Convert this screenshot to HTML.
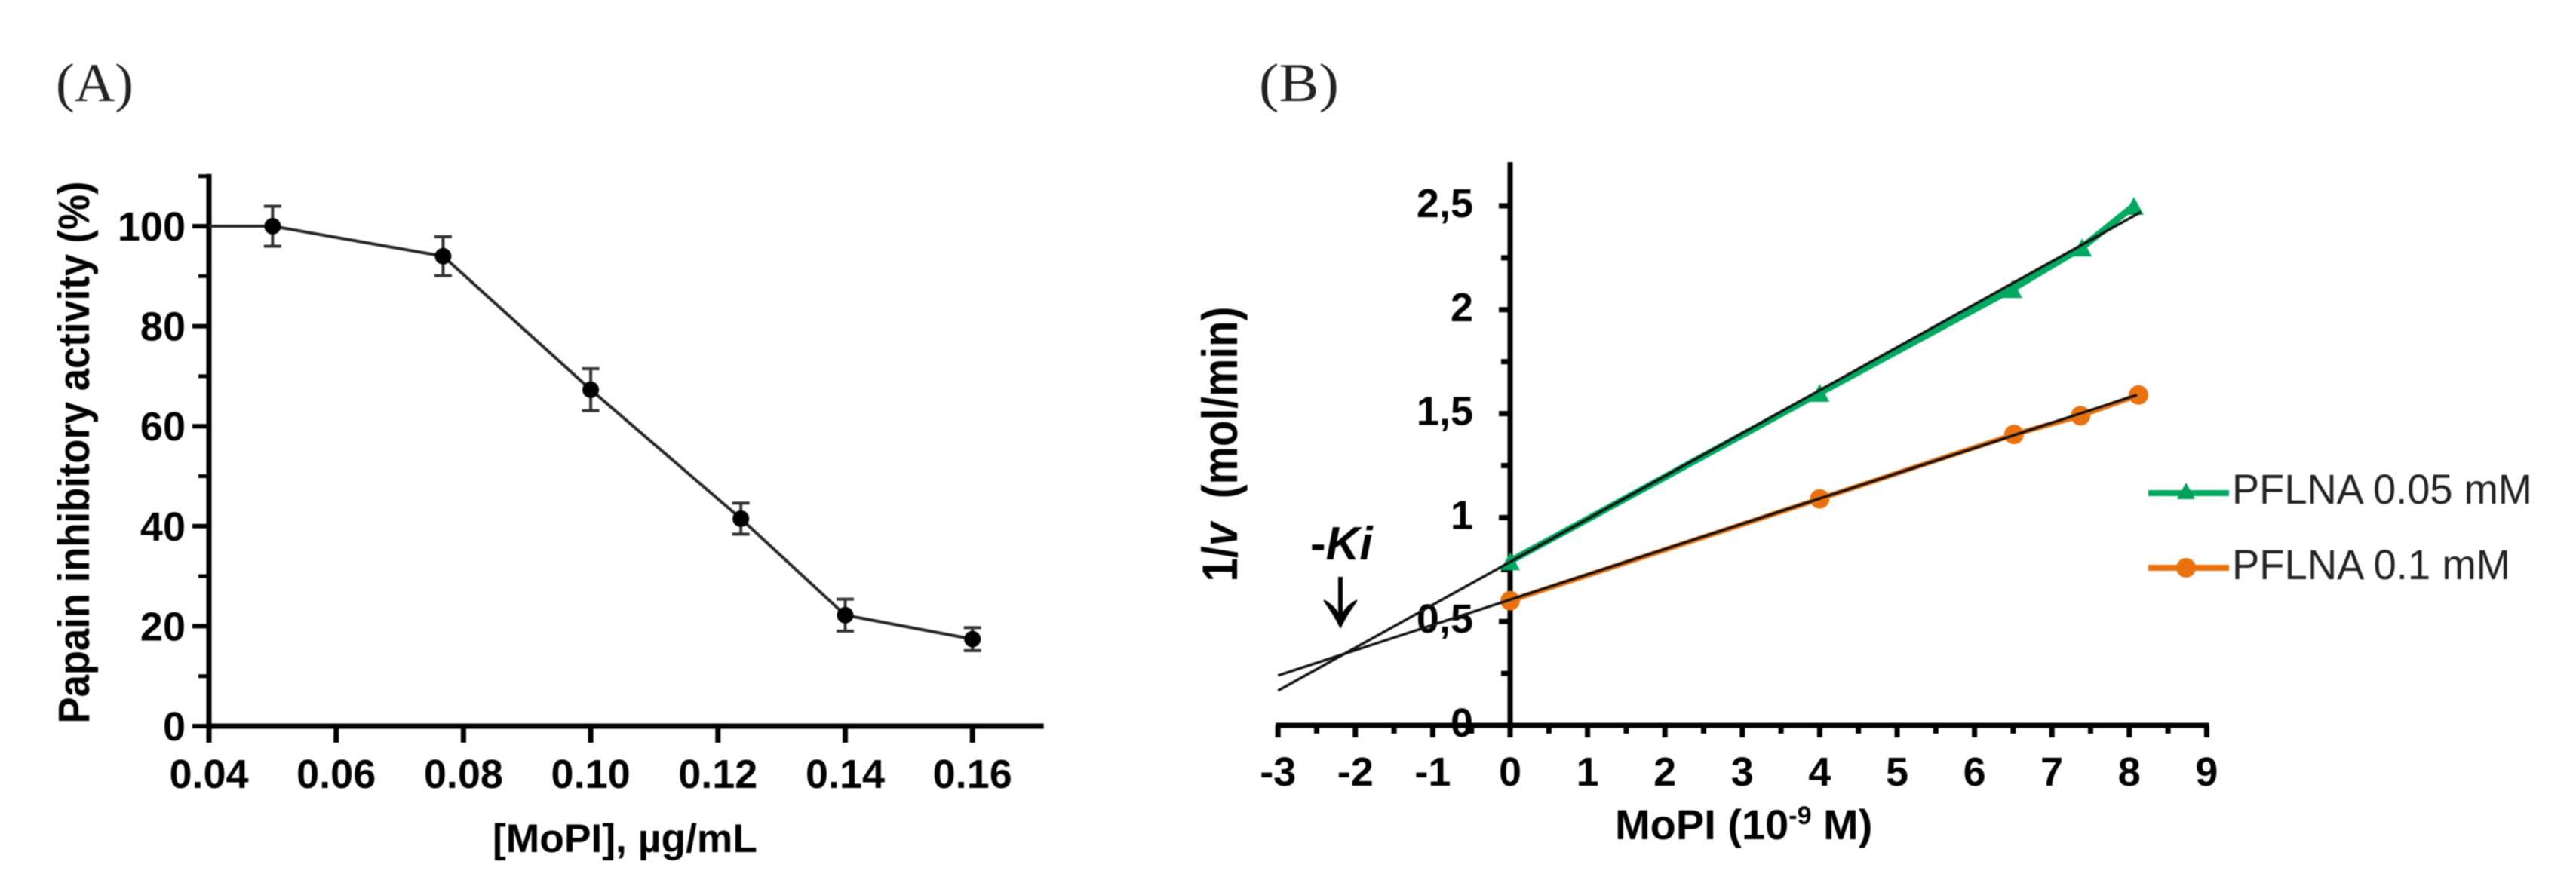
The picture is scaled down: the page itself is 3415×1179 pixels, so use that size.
<!DOCTYPE html>
<html lang="en">
<head>
<meta charset="utf-8">
<title>Papain inhibition and Dixon plot</title>
<style>
  html, body { margin: 0; padding: 0; background: #fff; }
  body { width: 3415px; height: 1179px; overflow: hidden; }
  svg { display: block; filter: blur(0.8px); }
  text { font-family: "Liberation Sans", Arial, sans-serif; fill: #000; }
  .bold { font-weight: 700; }
  .serif { font-family: "Liberation Serif", "Times New Roman", serif; fill: #222; }
  .tick-a { font-size: 54px; font-weight: 700; }
  .tick-b { font-size: 54px; font-weight: 700; }
  .legend-text { font-size: 56px; fill: #222; }
</style>
</head>
<body>
<svg id="figure" width="3415" height="1179" viewBox="0 0 3415 1179" xmlns="http://www.w3.org/2000/svg">
  <rect x="0" y="0" width="3415" height="1179" fill="#fff"/>

  <text class="serif" x="74" y="134" font-size="72" textLength="103" lengthAdjust="spacingAndGlyphs">(A)</text>
  <text class="serif" x="1669" y="134" font-size="72" textLength="106" lengthAdjust="spacingAndGlyphs">(B)</text>

  <g id="panel-a"></g>
  <g id="panel-b"></g>

  <text class="bold" transform="translate(118,600) rotate(-90)" text-anchor="middle" font-size="58" textLength="719" lengthAdjust="spacingAndGlyphs">Papain inhibitory activity (%)</text>
  <text class="bold" x="653" y="1130" font-size="53" textLength="351" lengthAdjust="spacingAndGlyphs">[MoPI], µg/mL</text>

  <text class="bold" transform="translate(1640,589) rotate(-90)" text-anchor="middle" font-size="66" textLength="365" lengthAdjust="spacingAndGlyphs" xml:space="preserve" style="white-space:pre">1/<tspan font-style="italic">v</tspan>  (mol/min)</text>
  <text class="bold" x="2141" y="1113" font-size="56">MoPI (10<tspan font-size="34" dy="-20">-9</tspan><tspan dy="20"> M)</tspan></text>

  <text class="bold" x="1737" y="742" font-size="62">-<tspan font-style="italic">Ki</tspan></text>
  <path fill="#000" d="M1774 765 L1780 765 L1780 812 Q1786 802 1799 795 L1799 798 Q1786 815 1777 834 Q1768 815 1755 798 L1755 795 Q1768 802 1774 812 Z"/>
</svg>

<script>
// ---------- Panel A data ----------
const inhibitionConc = [0.05, 0.0768, 0.1, 0.1236, 0.14, 0.16];
const inhibitionActivity = [100, 94, 67.3, 41.5, 22.2, 17.4];
const inhibitionError = [4, 3.9, 4.2, 3.1, 3.2, 2.3];
const inhibitionLeadConc = 0.04;
const aXTickValues = [0.04, 0.06, 0.08, 0.10, 0.12, 0.14, 0.16];
const aXTickLabels = ['0.04', '0.06', '0.08', '0.10', '0.12', '0.14', '0.16'];
const aYMajorTicks = [0, 20, 40, 60, 80, 100];
const aYMinorTicks = [10, 30, 50, 70, 90, 110];
const aXAxisRange = [0.04, 0.1712];

// ---------- Panel B data ----------
const greenConc = [0, 4, 6.49, 7.39, 8.06];
const greenRate = [0.79, 1.6, 2.1, 2.3, 2.5];
const orangeConc = [0, 4, 6.51, 7.37, 8.12];
const orangeRate = [0.6, 1.09, 1.4, 1.49, 1.59];
const greenFitX = [-3, 8.15];
const greenFitY = [0.167, 2.47];
const orangeFitX = [-3, 8.1];
const orangeFitY = [0.24, 1.59];
const bXMajorTicks = [-3, -2, -1, 0, 1, 2, 3, 4, 5, 6, 7, 8, 9];
const bXMinorTicks = [-2.5, -1.5, -0.5, 0.5, 1.5, 2.5, 3.5, 4.5, 5.5, 6.5, 7.5, 8.5];
const bYMajorTicks = [0, 0.5, 1, 1.5, 2, 2.5];
const bYMajorLabels = ['0', '0,5', '1', '1,5', '2', '2,5'];
const bYMinorTicks = [0.25, 0.75, 1.25, 1.75, 2.25];
const bYAxisTop = 2.71;
const legendLabels = ['PFLNA 0.05 mM', 'PFLNA 0.1 mM'];

const SVG_NS = 'http://www.w3.org/2000/svg';
const GREEN = '#00A860';
const ORANGE = '#E9720F';

function make(parent, tag, attrs, text) {
  const el = document.createElementNS(SVG_NS, tag);
  for (const k in attrs) el.setAttribute(k, attrs[k]);
  if (text !== undefined) el.textContent = text;
  parent.appendChild(el);
  return el;
}

// Axis functions
const ax = v => 277 + (v - 0.04) * 8435;
const ay = v => 963 - v * 6.63;
const bx = v => 2002 + v * 102.6;
const by = v => 962 - v * 275.6;

function trianglePoints(cx, cy, w, h) {
  return (cx - w / 2) + ',' + (cy + h / 2) + ' ' + cx + ',' + (cy - h / 2) + ' ' + (cx + w / 2) + ',' + (cy + h / 2);
}

// ---------- Panel A ----------
const gA = document.getElementById('panel-a');

aYMinorTicks.forEach(v => {
  const t = make(gA, 'line', { x1: 263, x2: 277, y1: ay(v), y2: ay(v), stroke: '#000', 'stroke-width': 5 });
  
  
});
aYMajorTicks.forEach(v => {
  const t = make(gA, 'line', { x1: 255, x2: 277, y1: ay(v), y2: ay(v), stroke: '#000', 'stroke-width': 6 });
  
  
  const l = make(gA, 'text', { x: 246, y: ay(v) + 19, 'text-anchor': 'end', class: 'tick-a' }, String(v));
  
  
});
aXTickValues.forEach((v, i) => {
  const t = make(gA, 'line', { x1: ax(v), x2: ax(v), y1: 963, y2: 985, stroke: '#000', 'stroke-width': 7 });
  
  
  const l = make(gA, 'text', { x: ax(v), y: 1045, 'text-anchor': 'middle', class: 'tick-a' }, aXTickLabels[i]);
  
  
});

const aYAxis = make(gA, 'line', { x1: 277, x2: 277, y1: ay(110) - 3, y2: 966, stroke: '#000', 'stroke-width': 7 });


const aXAxis = make(gA, 'line', { x1: ax(aXAxisRange[0]), x2: ax(aXAxisRange[1]), y1: 963, y2: 963, stroke: '#000', 'stroke-width': 7 });



const aPts = [ax(inhibitionLeadConc) + ',' + ay(inhibitionActivity[0])]
  .concat(inhibitionConc.map((x, i) => ax(x) + ',' + ay(inhibitionActivity[i]))).join(' ');
const aLine = make(gA, 'polyline', { points: aPts, fill: 'none', stroke: '#262626', 'stroke-width': 4 });



inhibitionConc.forEach((x, i) => {
  const cx = ax(x), top = ay(inhibitionActivity[i] + inhibitionError[i]), bot = ay(inhibitionActivity[i] - inhibitionError[i]);
  const bar = make(gA, 'path', {
    d: 'M' + cx + ' ' + top + 'V' + bot + 'M' + (cx - 11.5) + ' ' + top + 'H' + (cx + 11.5) + 'M' + (cx - 11.5) + ' ' + bot + 'H' + (cx + 11.5),
    fill: 'none', stroke: '#333', 'stroke-width': 4
  });
  
  
  const dot = make(gA, 'circle', { cx: cx, cy: ay(inhibitionActivity[i]), r: 11, fill: '#000' });
  
  
});

// ---------- Panel B ----------
const gB = document.getElementById('panel-b');

bYMajorTicks.forEach((v, i) => {
  const l = make(gB, 'text', { x: 1953, y: by(v) + 15, 'text-anchor': 'end', class: 'tick-b' }, bYMajorLabels[i]);
  
  
  const t = make(gB, 'line', { x1: 1987, x2: 2002, y1: by(v), y2: by(v), stroke: '#000', 'stroke-width': 7 });
  
  
});
bYMinorTicks.forEach(v => {
  const t = make(gB, 'line', { x1: 1990, x2: 2002, y1: by(v), y2: by(v), stroke: '#000', 'stroke-width': 7 });
  
  
});
bXMajorTicks.forEach(v => {
  const t = make(gB, 'line', { x1: bx(v), x2: bx(v), y1: 962, y2: 978, stroke: '#000', 'stroke-width': 7 });
  
  
  const l = make(gB, 'text', { x: bx(v), y: 1042, 'text-anchor': 'middle', class: 'tick-b' }, String(v));
  
  
});
bXMinorTicks.forEach(v => {
  const t = make(gB, 'line', { x1: bx(v), x2: bx(v), y1: 962, y2: 973, stroke: '#000', 'stroke-width': 7 });
  
  
});

const bYAxis = make(gB, 'line', { x1: 2002, x2: 2002, y1: by(bYAxisTop), y2: 962, stroke: '#000', 'stroke-width': 7 });


const bXAxis = make(gB, 'line', { x1: bx(-3) - 3, x2: bx(9) + 3, y1: 962, y2: 962, stroke: '#000', 'stroke-width': 7 });



const greenLine = make(gB, 'polyline', {
  points: greenConc.map((x, i) => bx(x) + ',' + by(greenRate[i])).join(' '),
  fill: 'none', stroke: GREEN, 'stroke-width': 9
});


const orangeLine = make(gB, 'polyline', {
  points: orangeConc.map((x, i) => bx(x) + ',' + by(orangeRate[i])).join(' '),
  fill: 'none', stroke: ORANGE, 'stroke-width': 7
});



greenConc.forEach((x, i) => {
  const m = make(gB, 'polygon', { points: trianglePoints(bx(x), by(greenRate[i]), 26, 24), fill: GREEN });
  
  
});
orangeConc.forEach((x, i) => {
  const m = make(gB, 'circle', { cx: bx(x), cy: by(orangeRate[i]), r: 13, fill: ORANGE });
  
  
});

const greenFit = make(gB, 'line', { x1: bx(greenFitX[0]), y1: by(greenFitY[0]), x2: bx(greenFitX[1]), y2: by(greenFitY[1]), stroke: '#111', 'stroke-width': 3.5 });


const orangeFit = make(gB, 'line', { x1: bx(orangeFitX[0]), y1: by(orangeFitY[0]), x2: bx(orangeFitX[1]), y2: by(orangeFitY[1]), stroke: '#111', 'stroke-width': 3.5 });



// Legend
const legendGreenLine = make(gB, 'line', { x1: 2848, x2: 2955, y1: 654, y2: 654, stroke: GREEN, 'stroke-width': 8 });


const legendGreenMarker = make(gB, 'polygon', { points: trianglePoints(2898, 651, 24, 22), fill: '#009F5A' });


const legendGreenText = make(gB, 'text', { x: 2959, y: 668, class: 'legend-text', textLength: 398, lengthAdjust: 'spacingAndGlyphs' }, legendLabels[0]);



const legendOrangeLine = make(gB, 'line', { x1: 2848, x2: 2955, y1: 753, y2: 753, stroke: ORANGE, 'stroke-width': 8 });


const legendOrangeMarker = make(gB, 'circle', { cx: 2898, cy: 753, r: 13, fill: ORANGE });


const legendOrangeText = make(gB, 'text', { x: 2959, y: 768, class: 'legend-text', textLength: 369, lengthAdjust: 'spacingAndGlyphs' }, legendLabels[1]);


</script>
</body>
</html>
